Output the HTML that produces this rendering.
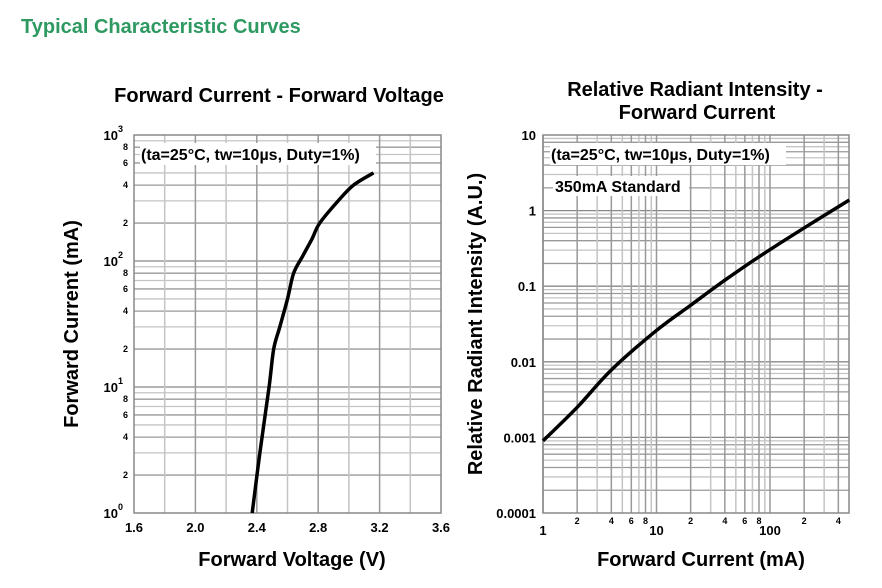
<!DOCTYPE html>
<html><head><meta charset="utf-8"><style>
body{margin:0;background:#fff;width:882px;height:588px;overflow:hidden;font-family:"Liberation Sans",sans-serif}
svg{position:absolute;left:0;top:0}
text{font-family:"Liberation Sans",sans-serif;font-weight:bold}
</style></head><body>
<svg id="s" width="882" height="588">
<text x="21" y="33" font-size="20" fill="#2e9a62">Typical Characteristic Curves</text>
<text x="279" y="102" font-size="20" text-anchor="middle">Forward Current - Forward Voltage</text>
<text x="695" y="96" font-size="20" text-anchor="middle">Relative Radiant Intensity -</text>
<text x="697" y="119" font-size="20" text-anchor="middle">Forward Current</text>
<text x="292" y="566" font-size="20" text-anchor="middle">Forward Voltage (V)</text>
<text x="78" y="324" font-size="20" text-anchor="middle" transform="rotate(-90 78 324)">Forward Current (mA)</text>
<text x="701" y="566" font-size="20" text-anchor="middle">Forward Current (mA)</text>
<text x="482" y="324" font-size="20" text-anchor="middle" transform="rotate(-90 482 324)">Relative Radiant Intensity (A.U.)</text>
<g id="L"></g><g id="R"></g>
</svg>
<script>
// Left chart data
const vfVoltage=[2.37,2.42,2.48,2.51,2.55,2.60,2.64,2.70,2.76,2.81,2.93,3.03,3.16];
const vfCurrent=[1,3,10,20,30,50,80,110,150,200,300,400,500];
const leftXTicks=["1.6","2.0","2.4","2.8","3.2","3.6"];
// Right chart data
const riCurrent=[1,2,4,10,20,40,80,200,500];
const riIntensity=[0.0009,0.0025,0.0078,0.026,0.056,0.12,0.245,0.59,1.38];
const rightYTicks=["10","1","0.1","0.01","0.001","0.0001"];
const NS="http://www.w3.org/2000/svg";
function mk(p,t,a,txt){const e=document.createElementNS(NS,t);for(const k in a)e.setAttribute(k,a[k]);if(txt!==undefined)e.textContent=txt;p.appendChild(e);return e;}
function smooth(pts){let d='M'+pts[0][0]+','+pts[0][1];for(let i=0;i<pts.length-1;i++){const p0=pts[Math.max(0,i-1)],p1=pts[i],p2=pts[i+1],p3=pts[Math.min(pts.length-1,i+2)];
 const c1=[p1[0]+(p2[0]-p0[0])/6,p1[1]+(p2[1]-p0[1])/6],c2=[p2[0]-(p3[0]-p1[0])/6,p2[1]-(p3[1]-p1[1])/6];
 d+=' C'+c1[0]+','+c1[1]+' '+c2[0]+','+c2[1]+' '+p2[0]+','+p2[1];}return d;}
// Left axes
const L=document.getElementById('L');
const lx0=134,lx1=441,ly0=135,ly1=513;
const lx=v=>lx0+(v-1.6)/2.0*(lx1-lx0);
const ly=v=>ly1-Math.log10(v)/3*(ly1-ly0);
mk(L,'rect',{x:lx0,y:ly0,width:lx1-lx0,height:ly1-ly0,fill:'#fff'});
for(let d=0;d<3;d++)for(let m=2;m<=9;m++){const y=ly(m*Math.pow(10,d));
 let g=mk(L,'line',{x1:lx0,x2:lx1,y1:y,y2:y,stroke:(m%2==0)?'#999':'#c4c4c4','stroke-width':1.3});
 
 if(m%2==0){let t=mk(L,'text',{x:lx0-6,y:y+3,'font-size':9,'text-anchor':'end'},String(m));}}
for(let d=1;d<3;d++){const y=ly(Math.pow(10,d));mk(L,'line',{x1:lx0,x2:lx1,y1:y,y2:y,stroke:'#888','stroke-width':1.3});}
for(let i=1;i<10;i++){const x=lx(1.6+i*0.2);let g=mk(L,'line',{x1:x,x2:x,y1:ly0,y2:ly1,stroke:(i%2==0)?'#999':'#c4c4c4','stroke-width':1.5});}
mk(L,'rect',{x:lx0,y:ly0,width:lx1-lx0,height:ly1-ly0,fill:'none',stroke:'#888','stroke-width':1.5});
leftXTicks.forEach(s=>{let t=mk(L,'text',{x:lx(parseFloat(s)),y:532,'font-size':13,'text-anchor':'middle'},s);});
for(let d=0;d<=3;d++){const y=ly(Math.pow(10,d));let t=mk(L,'text',{x:lx0-16,y:y+5,'font-size':13,'text-anchor':'end'},'10');mk(L,'text',{x:lx0-16,y:y-3,'font-size':9},String(d));}
mk(L,'rect',{x:lx0+6,y:143,width:236,height:22,fill:'#fff'});
let lt=mk(L,'text',{x:lx0+7,y:160,'font-size':16},'(ta=25°C, tw=10µs, Duty=1%)');
let lp=mk(L,'path',{d:smooth(vfVoltage.map((v,i)=>[lx(v),ly(vfCurrent[i])])),fill:'none',stroke:'#000','stroke-width':3.5,'stroke-linejoin':'round'});

// Right axes
const R=document.getElementById('R');
const rx0=543,rx1=849,ry0=135,ry1=513,dec=113.5;
const rx=v=>rx0+Math.log10(v)*dec;
const ry=v=>ry0+(1-Math.log10(v))/5*(ry1-ry0);
for(let d=-4;d<1;d++)for(let m=2;m<=9;m++){const y=ry(m*Math.pow(10,d));let g=mk(R,'line',{x1:rx0,x2:rx1,y1:y,y2:y,stroke:(m%2==0)?'#999':'#c4c4c4','stroke-width':1.3});}
for(let d=-3;d<1;d++){const y=ry(Math.pow(10,d));mk(R,'line',{x1:rx0,x2:rx1,y1:y,y2:y,stroke:'#888','stroke-width':1.3});}
for(let d=0;d<3;d++)for(let m=1;m<=9;m++){const v=m*Math.pow(10,d);const x=rx(v);if(x>rx1)continue;let g=mk(R,'line',{x1:x,x2:x,y1:ry0,y2:ry1,stroke:(m==1||m%2==0)?'#999':'#c4c4c4','stroke-width':1.5});
 if(m%2==0){let t=mk(R,'text',{x:x,y:524,'font-size':9,'text-anchor':'middle'},String(m));}}
mk(R,'rect',{x:rx0,y:ry0,width:rx1-rx0,height:ry1-ry0,fill:'none',stroke:'#888','stroke-width':1.5});
[["1",1],["10",10],["100",100]].forEach(a=>{let t=mk(R,'text',{x:rx(a[1]),y:535,'font-size':13,'text-anchor':'middle'},a[0]);});
rightYTicks.forEach(s=>{let t=mk(R,'text',{x:rx0-7,y:ry(parseFloat(s))+5,'font-size':13,'text-anchor':'end'},s);});
mk(R,'rect',{x:rx0+7,y:143,width:236,height:22,fill:'#fff'});
let rt=mk(R,'text',{x:rx0+8,y:160,'font-size':16},'(ta=25°C, tw=10µs, Duty=1%)');
mk(R,'rect',{x:rx0+10,y:176,width:136,height:20,fill:'#fff'});
let rs=mk(R,'text',{x:rx0+12,y:192,'font-size':16},'350mA Standard');
let rp=mk(R,'path',{d:smooth(riCurrent.map((v,i)=>[rx(v),ry(riIntensity[i])])),fill:'none',stroke:'#000','stroke-width':3.5,'stroke-linejoin':'round'});

</script>
</body></html>
